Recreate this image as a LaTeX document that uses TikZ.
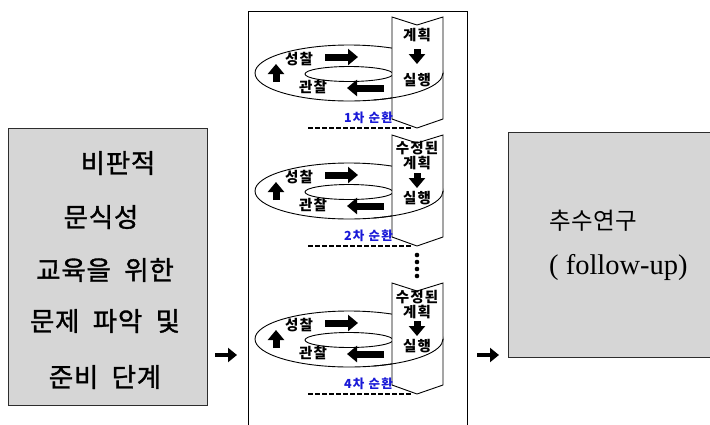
\documentclass[tikz,border=0pt]{standalone}
\usepackage{fontspec}
\setmainfont{Liberation Serif}
\newfontfamily\kr{Noto Sans CJK KR}
\usetikzlibrary{arrows.meta}
\definecolor{boxgray}{RGB}{214,214,214}
\definecolor{boxline}{RGB}{45,45,45}
\definecolor{cycblue}{RGB}{25,25,215}
\newcommand\wsp{\hspace{0.5em}}
\newcommand\drawcycle[6]{%
  \pgfmathsetmacro\yt{#1}%
  \coordinate (#2c) at (349,\yt+56);
  \draw[ring] (#2c) ellipse [x radius=94pt, y radius=28pt];
  \draw[ring] (349,\yt+57) ellipse [x radius=44pt, y radius=7.5pt];
  \draw[ring, fill=white] (392,\yt) -- (417,\yt+8) -- (443,\yt) -- (443,\yt+102)
     -- (417,\yt+111) -- (392,\yt+102) -- cycle;
  \draw[ring] ([xshift=94pt]#2c) arc[start angle=0, end angle=-75, x radius=94pt, y radius=28pt];
  \node[lab] (#2plan) at (417,\yt+#4) {#3};
  \draw[blk] (417,\yt+#5) -- (417,\yt+#5+15);
  \node[lab] (#2act) at (417,\yt+63) {실행};
  \node[lab] (#2refl) at (299,\yt+42) {성찰};
  \node[lab] (#2obs) at (313,\yt+70) {관찰};
  \draw[blk] (325,\yt+40) -- (358,\yt+40);
  \draw[blk] (384,\yt+71) -- (347,\yt+71);
  \draw[blk] (276,\yt+65) -- (276,\yt+47);
  \node[cyc] (#2lab) at (393,\yt+101) {#6};
  \coordinate (#2d1) at (308,\yt+111);
  \coordinate (#2d2) at (413,\yt+111);
  \draw[dsh] (#2d1) -- (#2d2);
}
\begin{document}
\begin{tikzpicture}[x=1pt,y=-1pt,
  box/.style={draw=boxline, line width=1.3pt, fill=boxgray, inner sep=0pt},
  ring/.style={line width=0.9pt},
  blk/.style={line width=7pt, -{Triangle[length=10pt,width=16pt]}},
  gl/.style={line width=4pt, -{Triangle[length=9pt,width=14pt]}},
  dsh/.style={line width=1.3pt, dash pattern=on 4.5pt off 2.5pt},
  lab/.style={font=\kr\bfseries\fontsize{14.5}{15}\selectfont\addfontfeature{LetterSpace=8}, inner sep=0pt, align=center},
  cyc/.style={font=\kr\bfseries\fontsize{12.5}{12}\selectfont\addfontfeature{LetterSpace=10}, text=cycblue, inner sep=0pt, anchor=east},
  big/.style={font=\kr\fontsize{26.5}{26}\selectfont\addfontfeature{LetterSpace=3,FakeBold=1.2}, inner sep=0pt},
  rbig/.style={font=\kr\fontsize{23.5}{22}\selectfont\addfontfeature{LetterSpace=2}, inner sep=0pt, anchor=west},
  rlat/.style={font=\fontsize{28.5}{28}\selectfont, inner sep=0pt, anchor=west}
]
\useasboundingbox (0,0) rectangle (710,424);
\fill[white] (0,0) rectangle (710,424);
% left box
\node[box, minimum width=199pt, minimum height=277pt, anchor=north west] (L) at (8,128) {};
\node[big] (l1) at (118,163) {비판적};
\node[big] (l2) at (101,217) {문식성};
\node[big] (l3) at (105,270) {교육을\wsp 위한};
\node[big] (l4) at (105,321) {문제\wsp 파악\wsp 및};
\node[big] (l5) at (105,377) {준비\wsp 단계};
% middle frame
\node[draw=black, line width=1pt, minimum width=219pt, minimum height=430pt, anchor=north west, inner sep=0pt] (M) at (248,11) {};
% right box
\node[box, minimum width=205pt, minimum height=225pt, anchor=north west] (R) at (508,132) {};
\node[rbig] (r1) at (549,221) {추수연구};
\node[rlat] (r2) at (549,267) {( follow-up)};
% arrows between boxes
\coordinate (a1s) at (215,355); \coordinate (a1e) at (237,355);
\draw[gl] (a1s) -- (a1e);
\coordinate (a2s) at (477,355); \coordinate (a2e) at (499,355);
\draw[gl] (a2s) -- (a2e);
% cycles
\drawcycle{17}{cA}{계획}{18}{32}{1차 순환}
\drawcycle{135}{cB}{수정된\\계획}{21}{38}{2차 순환}
\drawcycle{283}{cC}{수정된\\계획}{22}{38}{4차 순환}
% dots
\foreach \yy in {255,262,269,276} \fill (417,\yy) circle[radius=2.3pt];
\end{tikzpicture}
\end{document}
